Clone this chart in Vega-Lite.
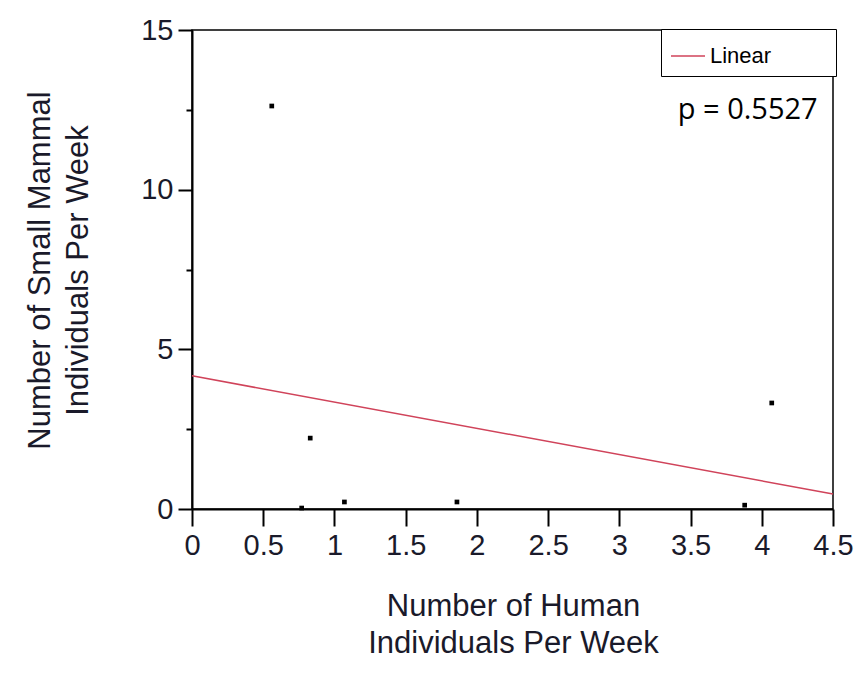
{
  "$schema": "https://vega.github.io/schema/vega-lite/v6.json",
  "width": 641,
  "height": 479,
  "autosize": "none",
  "padding": {"left": 192, "top": 30, "right": 31, "bottom": 170},
  "background": "white",
  "config": {
    "view": {"stroke": "black", "strokeWidth": 1.5},
    "axis": {
      "domainColor": "black",
      "domainWidth": 2,
      "tickColor": "black",
      "tickWidth": 2,
      "grid": false,
      "labelFont": "Liberation Sans",
      "labelFontSize": 29,
      "labelColor": "#1a1a2a",
      "titleFont": "Liberation Sans",
      "titleFontSize": 31,
      "titleFontWeight": "normal",
      "titleColor": "#1a1a2a"
    }
  },
  "resolve": {"axis": {"y": "independent"}},
  "datasets": {
    "pts": [
      {"humans": 0.56, "mammals": 12.62},
      {"humans": 0.83, "mammals": 2.22},
      {"humans": 0.77, "mammals": 0.03},
      {"humans": 1.07, "mammals": 0.22},
      {"humans": 1.86, "mammals": 0.22},
      {"humans": 3.88, "mammals": 0.12},
      {"humans": 4.07, "mammals": 3.32}
    ],
    "fit": [
      {"humans": 0, "mammals": 4.17, "series": "Linear Fit"},
      {"humans": 4.5, "mammals": 0.47, "series": "Linear Fit"}
    ],
    "note": [
      {"humans": 3.41, "mammals": 12.5, "label": "p = 0.5527"}
    ]
  },
  "layer": [
    {
      "data": {"name": "fit"},
      "mark": {"type": "line", "strokeWidth": 1.5},
      "encoding": {
        "x": {
          "field": "humans", "type": "quantitative",
          "scale": {"domain": [0, 4.5], "nice": false},
          "axis": {
            "values": [0, 0.5, 1, 1.5, 2, 2.5, 3, 3.5, 4, 4.5],
            "format": "~g", "labelFlush": false, "labelOverlap": false,
            "tickSize": 17, "labelPadding": 5,
            "title": ["Number of Human", "Individuals Per Week"],
            "titleX": 321, "titleY": 97, "titleLineHeight": 37,
            "titleAnchor": "middle", "titleAlign": "center", "titleBaseline": "middle"
          }
        },
        "y": {
          "field": "mammals", "type": "quantitative",
          "scale": {"domain": [0, 15], "nice": false},
          "axis": {
            "orient": "left",
            "values": [0, 5, 10, 15],
            "labelFlush": false,
            "tickSize": 14, "labelPadding": 5,
            "title": ["Number of Small Mammal", "Individuals Per Week"],
            "titleX": -152, "titleY": 240, "titleLineHeight": 38,
            "titleAngle": -90, "titleAlign": "center", "titleBaseline": "middle"
          }
        },
        "color": {
          "field": "series", "type": "nominal",
          "scale": {"range": ["#d0435a"]},
          "legend": {
            "title": null,
            "orient": "none", "legendX": 469, "legendY": -1,
            "symbolType": "stroke", "symbolSize": 1156, "symbolStrokeWidth": 1.5,
            "labelFont": "Liberation Sans", "labelFontSize": 22, "labelColor": "black",
            "labelOffset": 4, "labelLimit": 300,
            "labelExpr": "'Linear\u00a0\u00a0\u00a0\u00a0\u00a0\u00a0\u00a0\u00a0\u00a0\u200b'",
            "strokeColor": "black", "fillColor": "white", "padding": 9
          }
        }
      }
    },
    {
      "data": {"name": "pts"},
      "mark": {"type": "point", "shape": "square", "filled": true, "size": 22, "color": "black", "opacity": 1},
      "encoding": {
        "x": {"field": "humans", "type": "quantitative"},
        "y": {
          "field": "mammals", "type": "quantitative",
          "axis": {
            "orient": "left",
            "values": [2.5, 7.5, 12.5],
            "labels": false, "domain": false, "title": null,
            "tickSize": 6
          }
        }
      }
    },
    {
      "data": {"name": "note"},
      "mark": {"type": "text", "align": "left", "baseline": "middle", "font": "Open Sans", "fontSize": 29, "color": "black"},
      "encoding": {
        "x": {"field": "humans", "type": "quantitative"},
        "y": {"field": "mammals", "type": "quantitative", "axis": null},
        "text": {"field": "label"}
      }
    }
  ]
}
